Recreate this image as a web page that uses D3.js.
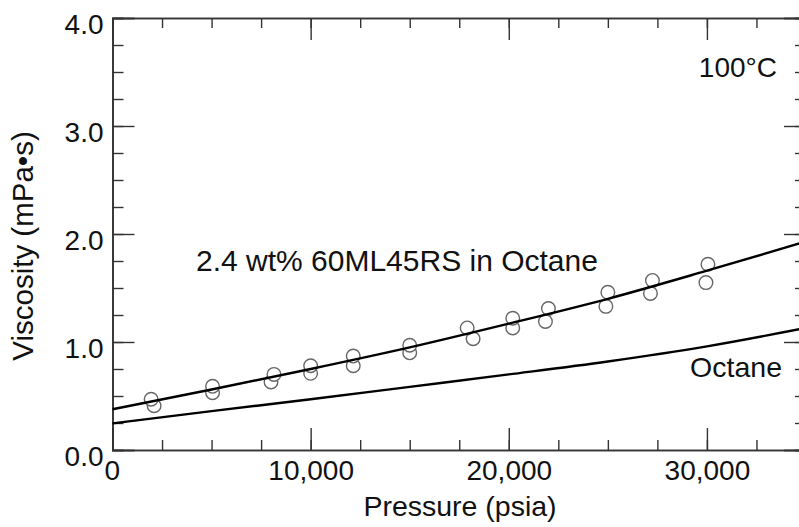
<!DOCTYPE html>
<html>
<head>
<meta charset="utf-8">
<script src="https://cdn.jsdelivr.net/npm/d3@7"></script>
<style>
  body { margin: 0; background: #fff; }
  svg { display: block; font-family: "Liberation Sans", Arial, Helvetica, sans-serif; }
  .axis path, .axis line { stroke: #333; }
  .axis text { fill: #111; font-size: 28px; }
</style>
</head>
<body>
<div id="chart"></div>
<script>
// measured points, 2.4 wt% 60ML45RS in octane (psia, mPa*s)
const pointPressure = [1950, 2100, 5050, 5050, 8000, 8150, 10000, 10000, 12150, 12150, 15000, 15000,
                       17900, 18200, 20200, 20200, 21850, 22000, 24900, 25000, 27150, 27250, 29950, 30050];
const pointViscosity = [0.47, 0.41, 0.53, 0.59, 0.63, 0.70, 0.71, 0.78, 0.78, 0.87, 0.90, 0.97,
                        1.13, 1.03, 1.13, 1.22, 1.19, 1.31, 1.33, 1.46, 1.45, 1.57, 1.55, 1.72];

// fitted curves
const curvePressure = [0, 5000, 10000, 15000, 20000, 25000, 30000, 35000];
const solutionCurve = [0.377, 0.56, 0.75, 0.95, 1.17, 1.40, 1.66, 1.93];
const octaneCurve = [0.247, 0.36, 0.47, 0.585, 0.70, 0.82, 0.96, 1.13];

const yMajor = [0, 1, 2, 3, 4];
const xMajor = [0, 10000, 20000, 30000];

let margin = {top: 18, right: -7, bottom: 77, left: 112.5};
let width = 799 - margin.left - margin.right;
let height = 527 - margin.top - margin.bottom;

let svg = d3.select("#chart").append("svg")
    .attr("width", 799)
    .attr("height", 527)
    .append("g")
    .attr("transform", "translate(" + margin.left + "," + margin.top + ")");

let x = d3.scaleLinear().domain([0, 35000]).range([0, width]);
let y = d3.scaleLinear().domain([0, 4]).range([height, 0]);

let xMinor = d3.range(0, 35001, 2500);
let yMinor = d3.range(0, 4.001, 0.25);

// minor ticks (no labels) on all four sides
svg.append("g").attr("class", "axis")
    .call(d3.axisLeft(y).tickValues(yMinor).tickSize(-11).tickFormat(""));
svg.append("g").attr("class", "axis")
    .attr("transform", "translate(" + width + ",0)")
    .call(d3.axisRight(y).tickValues(yMinor).tickSize(-11).tickFormat(""));
svg.append("g").attr("class", "axis")
    .attr("transform", "translate(0," + height + ")")
    .call(d3.axisBottom(x).tickValues(xMinor).tickSize(-10).tickFormat(""));
svg.append("g").attr("class", "axis")
    .call(d3.axisTop(x).tickValues(xMinor).tickSize(-10).tickFormat(""));

// major ticks
let yAxis = svg.append("g").attr("class", "axis")
    .call(d3.axisLeft(y).tickValues(yMajor).tickSize(-22).tickPadding(9).tickFormat(d3.format(".1f")));
yAxis.selectAll("text").attr("dy", "0.56em");
svg.append("g").attr("class", "axis")
    .attr("transform", "translate(" + width + ",0)")
    .call(d3.axisRight(y).tickValues(yMajor).tickSize(-22).tickFormat(""));
let xAxis = svg.append("g").attr("class", "axis")
    .attr("transform", "translate(0," + height + ")")
    .call(d3.axisBottom(x).tickValues(xMajor).tickSize(-22).tickPadding(10).tickFormat(d3.format(",")));
xAxis.selectAll(".tick").filter(d => d === 0).select("text").attr("dx", "-0.03em");
svg.append("g").attr("class", "axis")
    .call(d3.axisTop(x).tickValues(xMajor).tickSize(-22).tickFormat(""));

svg.selectAll(".axis path").attr("stroke-width", 1.6);
svg.selectAll(".axis line").attr("stroke-width", 1.4);

// data points
let pts = pointPressure.map((p, i) => ({p: p, v: pointViscosity[i]}));
svg.selectAll(".pt").data(pts.sort((a, b) => a.v - b.v))
    .enter().append("circle")
    .attr("class", "pt")
    .attr("cx", d => x(d.p))
    .attr("cy", d => y(d.v))
    .attr("r", 6.8)
    .attr("fill", "#fff")
    .attr("stroke", "#666")
    .attr("stroke-width", 1.4);

let line = d3.line()
    .x(d => x(d[0]))
    .y(d => y(d[1]))
    .curve(d3.curveMonotoneX);

svg.append("path")
    .datum(curvePressure.map((p, i) => [p, solutionCurve[i]]))
    .attr("d", line)
    .attr("fill", "none")
    .attr("stroke", "#000")
    .attr("stroke-width", 2.4);

svg.append("path")
    .datum(curvePressure.map((p, i) => [p, octaneCurve[i]]))
    .attr("d", line)
    .attr("fill", "none")
    .attr("stroke", "#000")
    .attr("stroke-width", 2.4);

// labels
svg.append("text")
    .attr("x", 196 - margin.left)
    .attr("y", 271 - margin.top)
    .attr("font-size", 30)
    .attr("fill", "#111")
    .text("2.4 wt% 60ML45RS in Octane");

svg.append("text")
    .attr("x", 782 - margin.left)
    .attr("y", 377 - margin.top)
    .attr("text-anchor", "end")
    .attr("font-size", 28.5)
    .attr("fill", "#111")
    .text("Octane");

svg.append("text")
    .attr("x", 777 - margin.left)
    .attr("y", 77 - margin.top)
    .attr("text-anchor", "end")
    .attr("font-size", 28)
    .attr("fill", "#111")
    .text("100°C");

svg.append("text")
    .attr("x", 460 - margin.left)
    .attr("y", 516 - margin.top)
    .attr("text-anchor", "middle")
    .attr("font-size", 28.5)
    .attr("fill", "#111")
    .text("Pressure (psia)");

svg.append("text")
    .attr("transform", "translate(" + (33 - margin.left) + "," + (246 - margin.top) + ") rotate(-90)")
    .attr("text-anchor", "middle")
    .attr("font-size", 29.5)
    .attr("fill", "#111")
    .text("Viscosity (mPa•s)");
</script>
</body>
</html>
